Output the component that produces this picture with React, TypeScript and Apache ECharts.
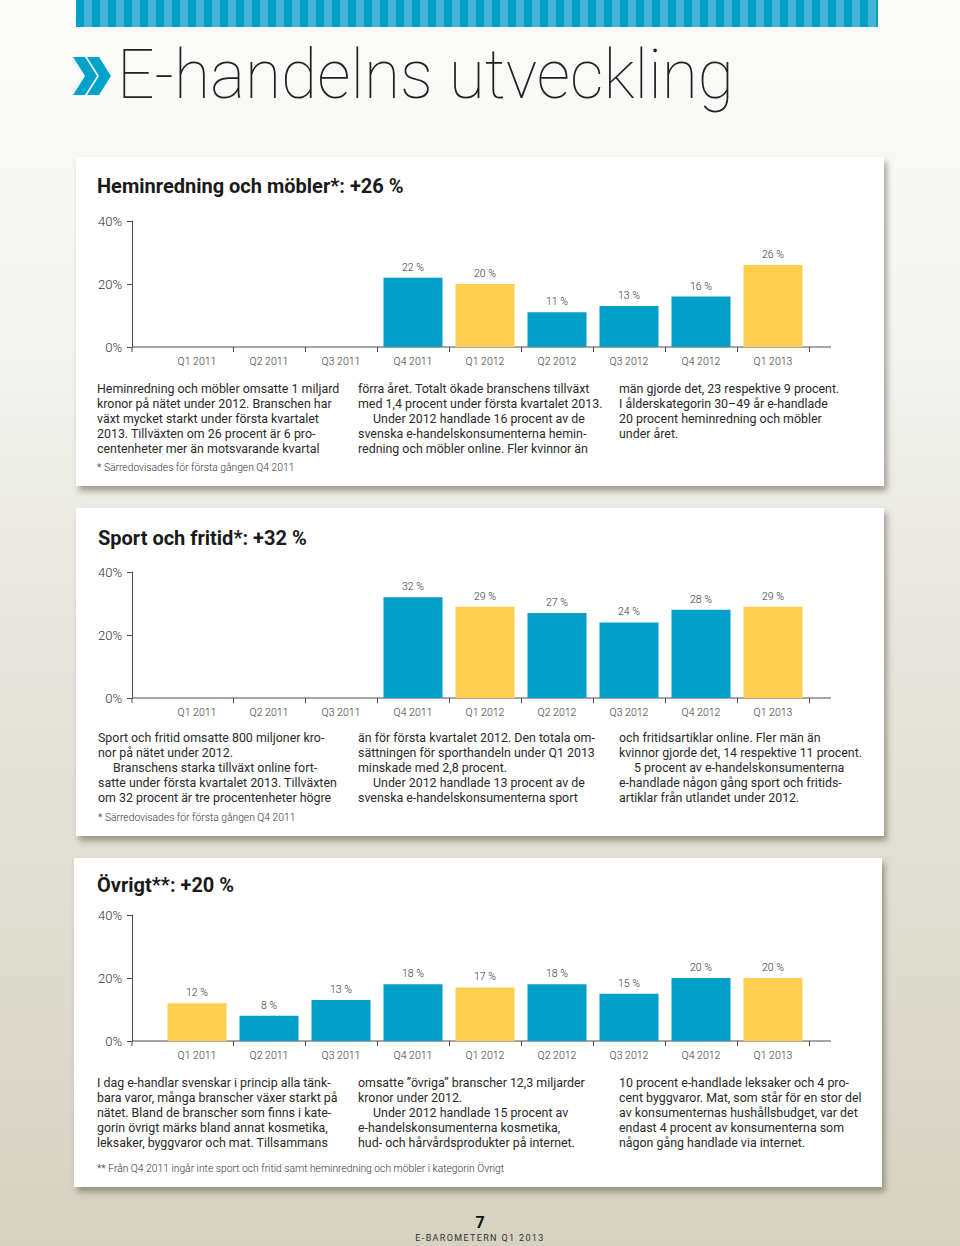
import React, { useEffect, useRef } from "react";
import * as echarts from "echarts";

const quarters = ["Q1 2011", "Q2 2011", "Q3 2011", "Q4 2011", "Q1 2012", "Q2 2012", "Q3 2012", "Q4 2012", "Q1 2013"];
const heminredning = [null, null, null, 22, 20, 11, 13, 16, 26];
const sport = [null, null, null, 32, 29, 27, 24, 28, 29];
const ovrigt = [12, 8, 13, 18, 17, 18, 15, 20, 20];
const yMin = 0;
const yMax = 40;
const yStep = 20;

const pageTitle = "E-handelns utveckling";
const cardTitles = ["Heminredning och möbler*: +26 %", "Sport och fritid*: +32 %", "Övrigt**: +20 %"];

// "  " prefix = indented line
const card1Cols = [
  [
    "Heminredning och möbler omsatte 1 miljard",
    "kronor på nätet under 2012. Branschen har",
    "växt mycket starkt under första kvartalet",
    "2013. Tillväxten om 26 procent är 6 pro-",
    "centenheter mer än motsvarande kvartal",
  ],
  [
    "förra året. Totalt ökade branschens tillväxt",
    "med 1,4 procent under första kvartalet 2013.",
    "  Under 2012 handlade 16 procent av de",
    "svenska e-handelskonsumenterna hemin-",
    "redning och möbler online. Fler kvinnor än",
  ],
  [
    "män gjorde det, 23 respektive 9 procent.",
    "I ålderskategorin 30–49 år e-handlade",
    "20 procent heminredning och möbler",
    "under året.",
  ],
];
const card2Cols = [
  [
    "Sport och fritid omsatte 800 miljoner kro-",
    "nor på nätet under 2012.",
    "  Branschens starka tillväxt online fort-",
    "satte under första kvartalet 2013. Tillväxten",
    "om 32 procent är tre procentenheter högre",
  ],
  [
    "än för första kvartalet 2012. Den totala om-",
    "sättningen för sporthandeln under Q1 2013",
    "minskade med 2,8 procent.",
    "  Under 2012 handlade 13 procent av de",
    "svenska e-handelskonsumenterna sport",
  ],
  [
    "och fritidsartiklar online. Fler män än",
    "kvinnor gjorde det, 14 respektive 11 procent.",
    "  5 procent av e-handelskonsumenterna",
    "e-handlade någon gång sport och fritids-",
    "artiklar från utlandet under 2012.",
  ],
];
const card3Cols = [
  [
    "I dag e-handlar svenskar i princip alla tänk-",
    "bara varor, många branscher växer starkt på",
    "nätet. Bland de branscher som finns i kate-",
    "gorin övrigt märks bland annat kosmetika,",
    "leksaker, byggvaror och mat. Tillsammans",
  ],
  [
    "omsatte ”övriga” branscher 12,3 miljarder",
    "kronor under 2012.",
    "  Under 2012 handlade 15 procent av",
    "e-handelskonsumenterna kosmetika,",
    "hud- och hårvårdsprodukter på internet.",
  ],
  [
    "10 procent e-handlade leksaker och 4 pro-",
    "cent byggvaror. Mat, som står för en stor del",
    "av konsumenternas hushållsbudget, var det",
    "endast 4 procent av konsumenterna som",
    "någon gång handlade via internet.",
  ],
];
const footnotes = [
  "* Särredovisades för första gången Q4 2011",
  "* Särredovisades för första gången Q4 2011",
  "** Från Q4 2011 ingår inte sport och fritid samt heminredning och möbler i kategorin Övrigt",
];
const pageNumber = "7";
const pageFooter = "E-BAROMETERN Q1 2013";

const BLUE = "#009fc8";
const YELLOW = "#fecf4f";
const AXIS = "#4d4d4d";
const TEXT = "#2a2a2a";
const FONT = "Roboto";

const GRID_LEFT = 161;
const GRID_W = 648;
const GRID_H = 126;
const gridTops = [221, 572, 915];
const titleY = [176, 528, 875];
const titleX = [97, 98, 97];
const paraY = [388, 737, 1082];
const footY = [467, 817, 1168];
const colX = [
  [97, 358, 619],
  [98, 358, 619],
  [97, 358, 619],
];

function barSeries(values: (number | null)[], idx: number) {
  return {
    type: "bar",
    xAxisIndex: idx,
    yAxisIndex: idx,
    barCategoryGap: "18%",
    data: values.map((v, i) =>
      v == null ? "-" : { value: v, itemStyle: { color: quarters[i].startsWith("Q1") ? YELLOW : BLUE } }
    ),
    label: {
      show: true,
      position: "top",
      distance: 5,
      formatter: (p: any) => `${p.value} %`,
      fontFamily: FONT,
      fontWeight: 300,
      fontSize: 10.5,
      color: "#333",
    },
  };
}

function textLines(cols: string[][], xs: number[], y0: number) {
  const els: any[] = [];
  cols.forEach((lines, c) => {
    lines.forEach((line, i) => {
      const indent = line.startsWith("  ");
      els.push({
        type: "text",
        x: xs[c] + (indent ? 15 : 0),
        y: y0 + i * 15.2,
        style: {
          text: indent ? line.slice(2) : line,
          fill: TEXT,
          fontFamily: FONT,
          fontSize: 12.4,
          fontWeight: 400,
          verticalAlign: "middle",
        },
      });
    });
  });
  return els;
}

export default function App() {
  const ref = useRef<HTMLDivElement>(null);
  useEffect(() => {
    if (!ref.current) return;
    const chart = echarts.init(ref.current, undefined, { renderer: "svg" });
    const grids = gridTops.map((t) => ({ left: GRID_LEFT, top: t, width: GRID_W, height: GRID_H }));
    const catAxes = gridTops.map((_, i) => ({
      type: "category",
      gridIndex: i,
      position: "bottom",
      data: quarters,
      axisLine: { show: false },
      axisTick: {
        show: true,
        length: 5,
        interval: (idx: number) => idx > 0,
        lineStyle: { color: AXIS },
      },
      axisLabel: { fontFamily: FONT, fontWeight: 300, fontSize: 10.5, color: "#333", margin: 9 },
    }));
    const yAxes = gridTops.map((_, i) => ({
      type: "value",
      gridIndex: i,
      position: "left",
      min: yMin,
      max: yMax,
      interval: yStep,
      offset: 29,
      axisLine: { show: true, onZero: false, lineStyle: { color: AXIS } },
      axisTick: { show: true, length: 5, lineStyle: { color: AXIS } },
      splitLine: { show: false },
      axisLabel: { formatter: "{value}%", fontFamily: FONT, fontWeight: 300, fontSize: 13, color: "#333", margin: 10 },
    }));

    const graphic: any[] = [];
    graphic.push({
      type: "polygon",
      shape: { points: [[73, 57], [85, 57], [97, 76], [85, 95], [73, 95], [85, 76]] },
      style: { fill: "#00a2cc" },
    });
    graphic.push({
      type: "polygon",
      shape: { points: [[87, 57], [99, 57], [111, 76], [99, 95], [87, 95], [99, 76]] },
      style: { fill: "#00a2cc" },
    });
    graphic.push({
      type: "text",
      x: 117,
      y: 41,
      scaleX: 0.97,
      style: { text: pageTitle, fill: "#222", fontFamily: FONT, fontWeight: 100, fontSize: 68, verticalAlign: "top" },
    });
    cardTitles.forEach((t, i) => {
      graphic.push({
        type: "text",
        x: titleX[i],
        y: titleY[i],
        style: { text: t, fill: "#1a1a1a", fontFamily: FONT, fontWeight: "bold", fontSize: 20, verticalAlign: "top" },
      });
    });
    [card1Cols, card2Cols, card3Cols].forEach((cols, i) => {
      graphic.push(...textLines(cols, colX[i], paraY[i]));
      graphic.push({
        type: "text",
        x: colX[i][0],
        y: footY[i],
        style: { text: footnotes[i], fill: "#333", fontFamily: FONT, fontWeight: 300, fontSize: 10.3, verticalAlign: "middle" },
      });
    });
    gridTops.forEach((t) => {
      const base = t + GRID_H;
      graphic.push({ type: "line", shape: { x1: 132, y1: base, x2: 831, y2: base }, style: { stroke: AXIS, lineWidth: 1 } });
      graphic.push({ type: "line", shape: { x1: 132, y1: base, x2: 132, y2: base + 5 }, style: { stroke: AXIS, lineWidth: 1 } });
    });
    graphic.push({
      type: "text",
      x: 480,
      y: 1222,
      style: { text: pageNumber, fill: "#111", fontFamily: FONT, fontWeight: "bold", fontSize: 16, align: "center", verticalAlign: "middle" },
    });

    chart.setOption({
      animation: false,
      backgroundColor: "transparent",
      grid: grids,
      xAxis: catAxes,
      yAxis: yAxes,
      series: [barSeries(heminredning, 0), barSeries(sport, 1), barSeries(ovrigt, 2)],
      graphic,
    });
    return () => chart.dispose();
  }, []);

  const card = (left: number, top: number, height: number): React.CSSProperties => ({
    position: "absolute",
    left,
    top,
    width: 808,
    height,
    background: "#fff",
    boxShadow: "3px 5px 6px rgba(70,64,45,0.45)",
  });

  return (
    <div
      style={{
        position: "absolute",
        left: 0,
        top: 0,
        width: 960,
        height: 1246,
        overflow: "hidden",
        background: "linear-gradient(to bottom, #fbfbfa 0%, #f5f5f2 25%, #ebeae4 42%, #e1dfd4 68%, #d6d2c1 100%)",
      }}
    >
      <div
        style={{
          position: "absolute",
          left: 76,
          top: 0,
          width: 802,
          height: 27,
          background: "repeating-linear-gradient(to right, #00a0c9 0px, #00a0c9 8px, #45b3d7 8px, #45b3d7 16px)",
        }}
      />
      <div style={card(76, 157, 329)} />
      <div style={card(76, 508, 328)} />
      <div style={card(74, 858, 329)} />
      <div
        style={{
          position: "absolute",
          left: 0,
          top: 1233,
          width: 960,
          textAlign: "center",
          fontFamily: "Roboto, sans-serif",
          fontSize: 9,
          letterSpacing: 1.35,
          color: "#333",
        }}
      >
        {pageFooter}
      </div>
      <div ref={ref} style={{ position: "absolute", left: 0, top: 0, width: 960, height: 1246 }} />
    </div>
  );
}
